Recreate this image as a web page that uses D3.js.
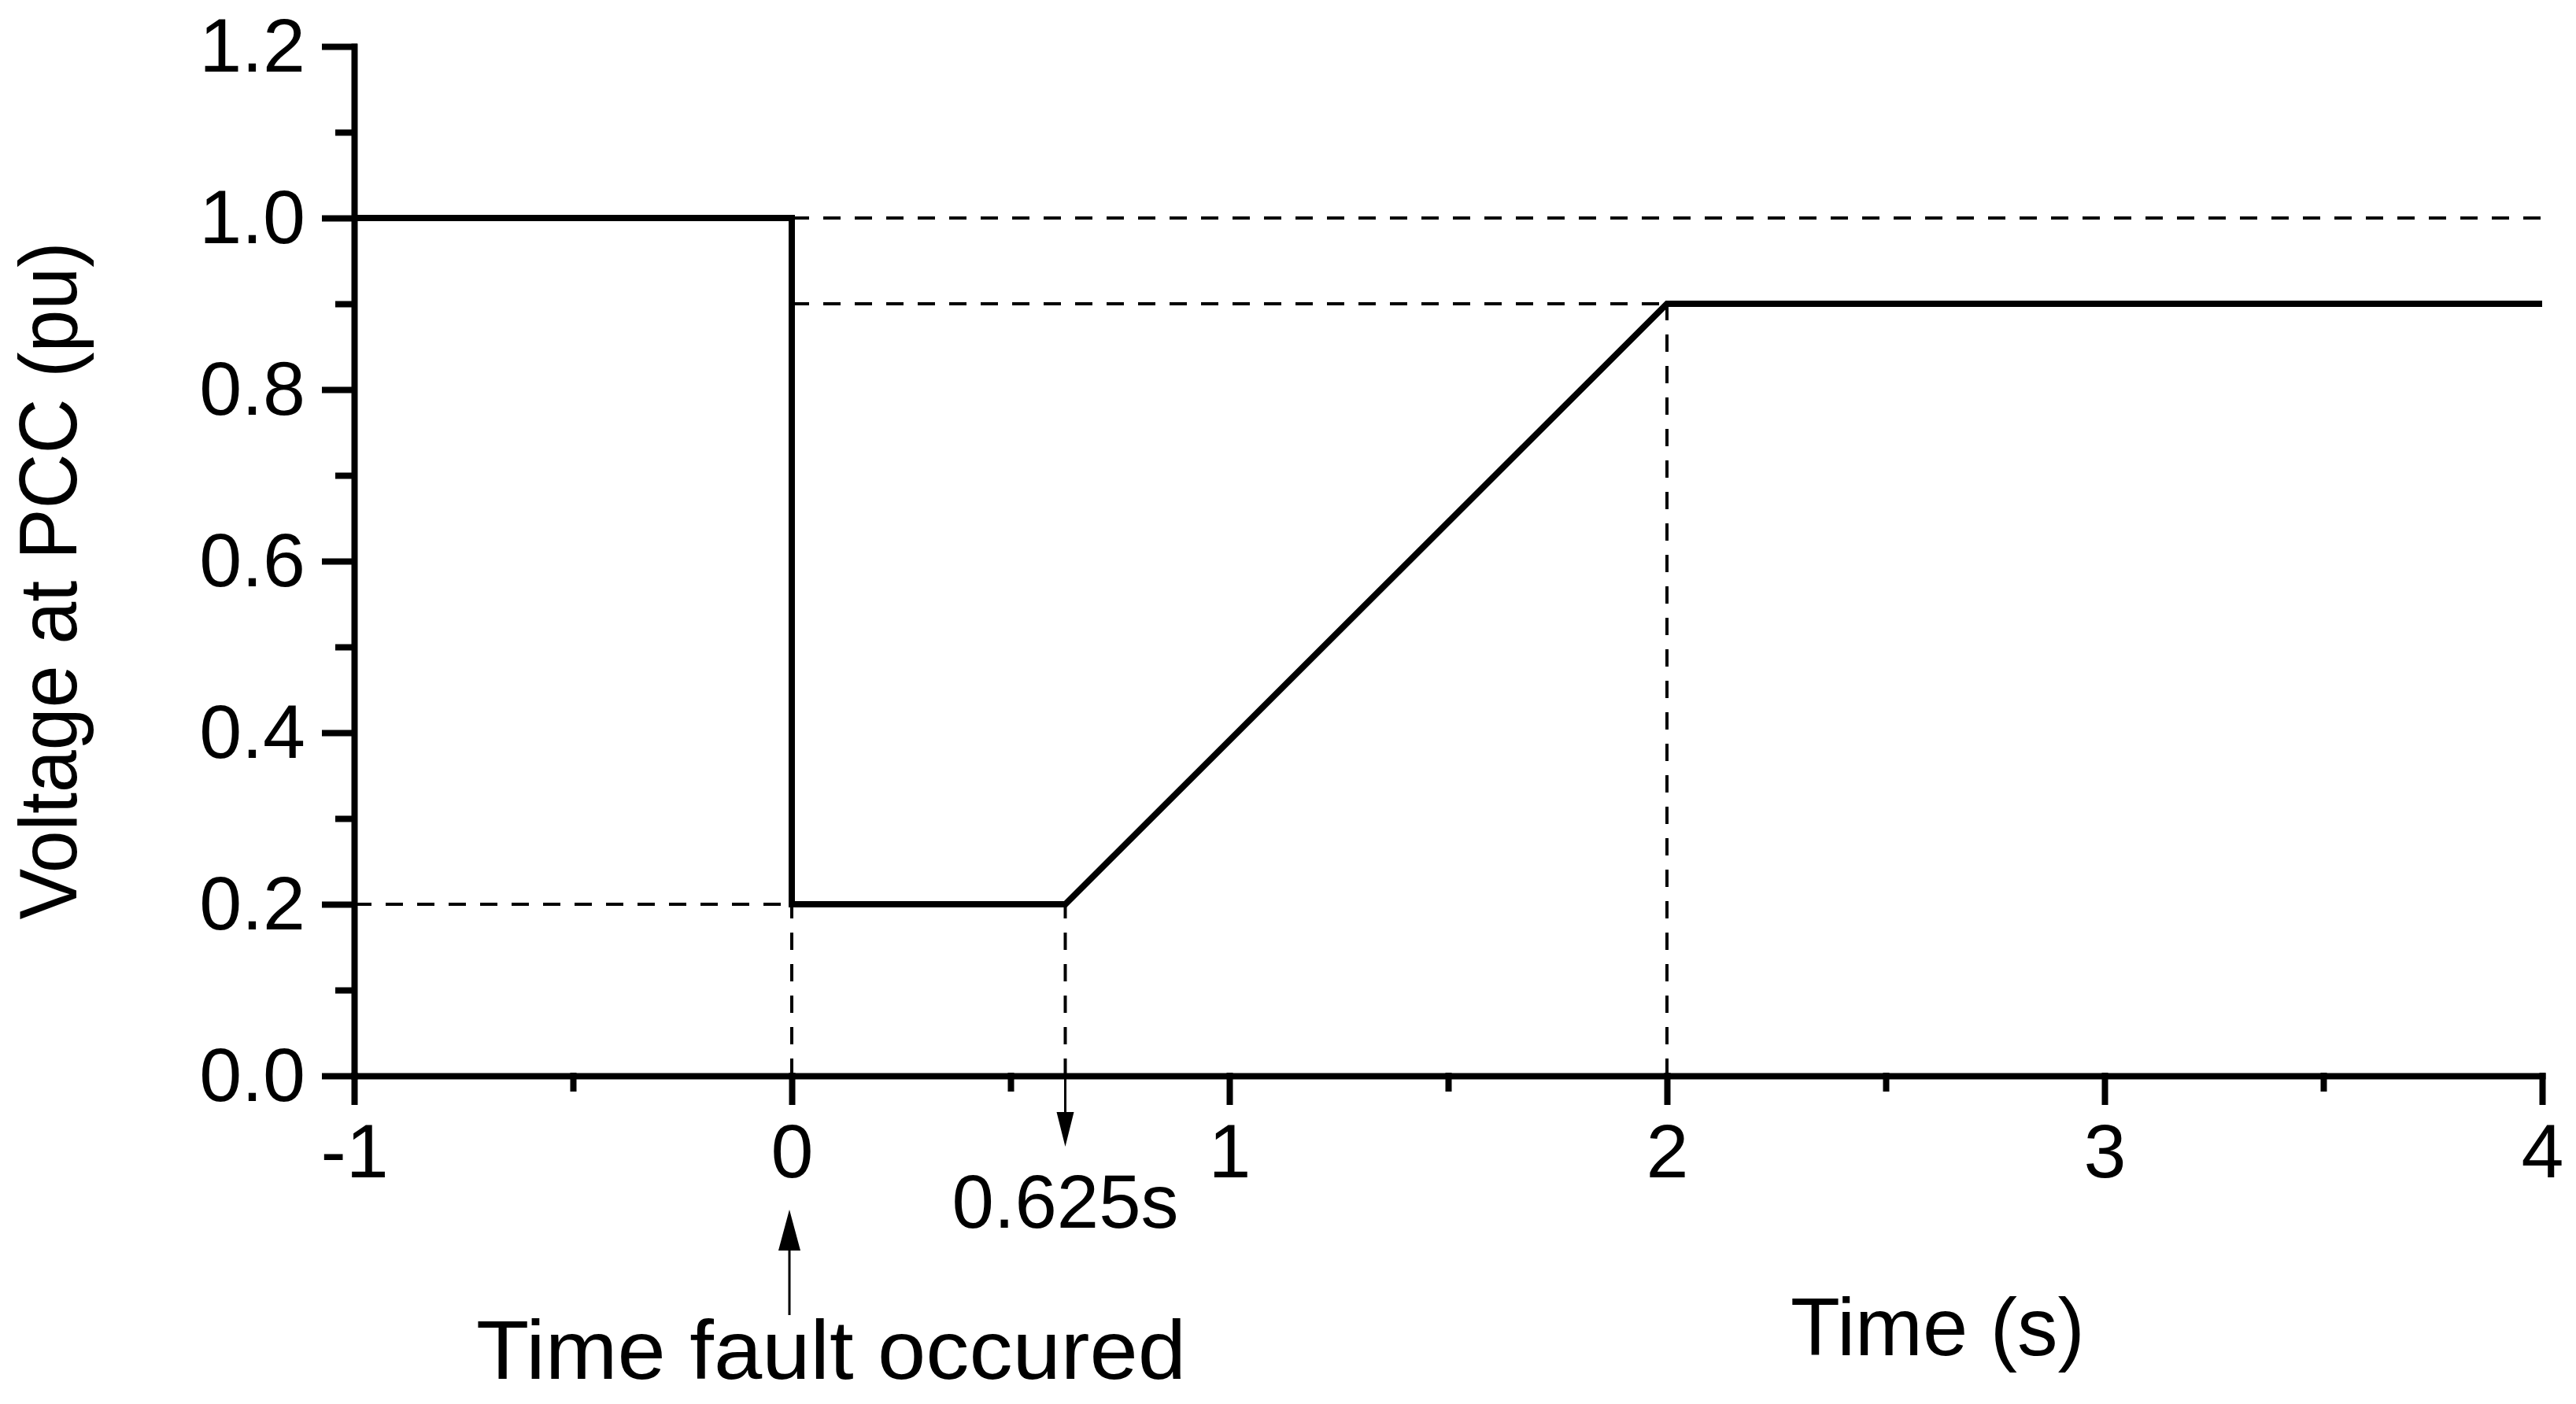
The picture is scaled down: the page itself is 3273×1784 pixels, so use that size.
<!DOCTYPE html>
<html>
<head>
<meta charset="utf-8">
<script src="https://cdn.jsdelivr.net/npm/d3@7"></script>
<style>
  html, body { margin: 0; padding: 0; background: #fff; }
  svg { display: block; }
  text { font-family: "Liberation Sans", Arial, sans-serif; fill: #000; }
</style>
</head>
<body>
<svg id="chart" width="3273" height="1784"></svg>
<script>
// ---- data ----
const timeValues = [-1, 0, 0, 0.625, 2, 4];
const voltageValues = [1.0, 1.0, 0.2, 0.2, 0.9, 0.9];
const xTickValues = [-1, 0, 1, 2, 3, 4];
const xTickLabels = ["-1", "0", "1", "2", "3", "4"];
const xMinorTicks = [-0.5, 0.5, 1.5, 2.5, 3.5];
const yTickValues = [0, 0.2, 0.4, 0.6, 0.8, 1.0, 1.2];
const yTickLabels = ["0.0", "0.2", "0.4", "0.6", "0.8", "1.0", "1.2"];
const yMinorTicks = [0.1, 0.3, 0.5, 0.7, 0.9, 1.1];
// dashed guide lines: [x1, y1, x2, y2] in data units
const guideFrom = [[0, 1.0], [0, 0.9], [-1, 0.2], [0, 0], [0.625, 0], [2, 0]];
const guideTo   = [[4, 1.0], [2, 0.9], [0, 0.2], [0, 0.2], [0.625, 0.2], [2, 0.9]];
const xTitle = "Time (s)";
const yTitle = "Voltage at PCC (pu)";
const annoFault = "Time fault occured";
const annoRamp = "0.625s";

// ---- layout ----
const svg = d3.select("#chart");
const x = d3.scaleLinear().domain([-1, 4]).range([450, 3230]);
const y = d3.scaleLinear().domain([0, 1.2]).range([1367, 59]);
const AXW = 8;

// dashed guides
svg.append("g").selectAll("line").data(guideFrom).join("line")
  .attr("x1", d => x(d[0])).attr("y1", d => y(d[1]))
  .attr("x2", (d, i) => x(guideTo[i][0])).attr("y2", (d, i) => y(guideTo[i][1]))
  .attr("stroke", "#000").attr("stroke-width", 4)
  .attr("stroke-dasharray", "22,18");

// data line
svg.append("path")
  .datum(timeValues.map((t, i) => [t, voltageValues[i]]))
  .attr("fill", "none").attr("stroke", "#000").attr("stroke-width", 8)
  .attr("stroke-linejoin", "miter")
  .attr("d", d3.line().x(d => x(d[0])).y(d => y(d[1])));

// axes
const yAxis = d3.axisLeft(y).tickValues(yTickValues)
  .tickFormat((d, i) => yTickLabels[i]).tickSize(37).tickSizeOuter(0).tickPadding(25);
const gy = svg.append("g").attr("transform", `translate(${x(-1)},0)`).call(yAxis);
const yMinor = d3.axisLeft(y).tickValues(yMinorTicks).tickFormat("").tickSize(20).tickSizeOuter(0);
svg.append("g").attr("transform", `translate(${x(-1)},0)`).call(yMinor).select(".domain").remove();

const xAxis = d3.axisBottom(x).tickValues(xTickValues)
  .tickFormat((d, i) => xTickLabels[i]).tickSize(33).tickSizeOuter(0).tickPadding(27);
const gx = svg.append("g").attr("transform", `translate(0,${y(0)})`).call(xAxis);
const xMinor = d3.axisBottom(x).tickValues(xMinorTicks).tickFormat("").tickSize(16).tickSizeOuter(0);
svg.append("g").attr("transform", `translate(0,${y(0)})`).call(xMinor).select(".domain").remove();

svg.selectAll(".domain, .tick line")
  .attr("stroke", "#000").attr("stroke-width", AXW).attr("stroke-linecap", "square");
svg.selectAll(".tick text").attr("font-size", 97).attr("fill", "#000")
  .style("font-family", '"Liberation Sans", Arial, sans-serif');

// axis titles
svg.append("text").attr("x", 2462).attr("y", 1722)
  .attr("text-anchor", "middle").attr("font-size", 103).text(xTitle);
svg.append("text")
  .attr("transform", "translate(97,738) rotate(-90)")
  .attr("text-anchor", "middle").attr("font-size", 104)
  .attr("textLength", 861).attr("lengthAdjust", "spacingAndGlyphs")
  .text(yTitle);

// annotations: arrow down at 0.625
const xr = x(0.625);
svg.append("line").attr("x1", xr).attr("x2", xr).attr("y1", y(0)).attr("y2", 1420)
  .attr("stroke", "#000").attr("stroke-width", 3);
svg.append("path")
  .attr("d", `M${xr - 11},1413 L${xr + 11},1413 L${xr},1457 Z`).attr("fill", "#000");
svg.append("text").attr("x", xr).attr("y", 1560)
  .attr("text-anchor", "middle").attr("font-size", 96)
  .attr("textLength", 288).attr("lengthAdjust", "spacingAndGlyphs").text(annoRamp);

// arrow up at 0
const x0 = x(0) - 3;
svg.append("line").attr("x1", x0).attr("x2", x0).attr("y1", 1671).attr("y2", 1585)
  .attr("stroke", "#000").attr("stroke-width", 3);
svg.append("path")
  .attr("d", `M${x0 - 14},1589 L${x0 + 14},1589 L${x0},1537 Z`).attr("fill", "#000");
svg.append("text").attr("x", 605).attr("y", 1752)
  .attr("font-size", 106).attr("textLength", 902).attr("lengthAdjust", "spacingAndGlyphs")
  .text(annoFault);
</script>
</body>
</html>
